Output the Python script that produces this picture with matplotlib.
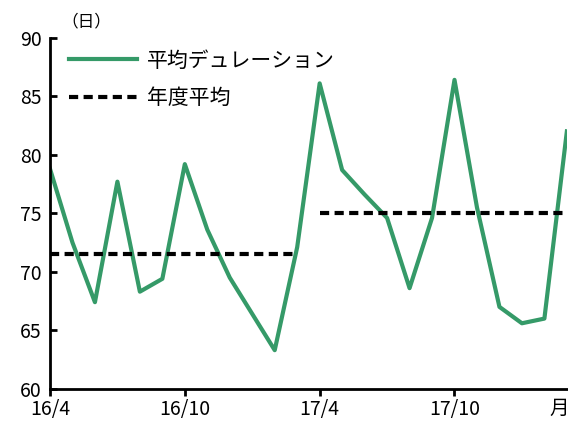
import matplotlib

matplotlib.use("Agg")
import matplotlib.pyplot as plt


months = [
    "16/4", "16/5", "16/6", "16/7", "16/8", "16/9",
    "16/10", "16/11", "16/12", "17/1", "17/2", "17/3",
    "17/4", "17/5", "17/6", "17/7", "17/8", "17/9",
    "17/10", "17/11", "17/12", "18/1", "18/2", "18/3",
]
duration = [
    78.8, 72.5, 67.4, 77.7, 68.3, 69.4,
    79.2, 73.6, 69.5, 66.4, 63.3, 72.1,
    86.1, 78.7, 76.6, 74.6, 68.6, 74.6,
    86.4, 75.5, 67.0, 65.6, 66.0, 82.0,
]
fy_average = [71.5] * 12 + [75.0] * 12
fy_groups = [range(0, 12), range(12, 24)]
tick_labels = ["16/4", "16/10", "17/4", "17/10"]

GREEN = "#359a68"

plt.rcParams["font.family"] = ["Noto Sans CJK JP", "DejaVu Sans"]

fig = plt.figure(figsize=(5.68, 4.24), dpi=100)
ax = fig.add_axes([0.088, 0.083, 0.910, 0.828])

x = list(range(len(months)))
ax.plot(x, duration, color=GREEN, lw=3, label="平均デュレーション", zorder=2)
for i, group in enumerate(fy_groups):
    gx = list(group)
    ax.plot(
        gx,
        [fy_average[k] for k in gx],
        color="black",
        lw=3,
        dashes=(2.2, 1.3),
        label="年度平均" if i == 0 else None,
        zorder=3,
    )

ax.set_xlim(0, len(months) - 1)
ax.set_ylim(60, 90)
ax.set_yticks(range(60, 91, 5))
ax.set_xticks([months.index(t) for t in tick_labels])
ax.set_xticklabels(tick_labels)

for side in ("top", "right"):
    ax.spines[side].set_visible(False)
for side in ("left", "bottom"):
    ax.spines[side].set_linewidth(2)
ax.tick_params(axis="y", direction="in", length=5, width=2, labelsize=14, pad=6)
ax.tick_params(axis="x", direction="out", length=5, width=2, labelsize=14, pad=2)

ax.text(0.07, 1.045, "（日）", transform=ax.transAxes, fontsize=12,
        ha="center", va="center")
ax.text(0.985, -0.055, "月", transform=ax.transAxes, fontsize=14,
        ha="center", va="center")

ax.legend(
    loc="upper left",
    bbox_to_anchor=(0.008, 1.008),
    frameon=False,
    fontsize=15,
    handlelength=3.3,
    handletextpad=0.45,
    labelspacing=0.75,
    borderaxespad=0.3,
)

fig.savefig("out.png", dpi=100)
